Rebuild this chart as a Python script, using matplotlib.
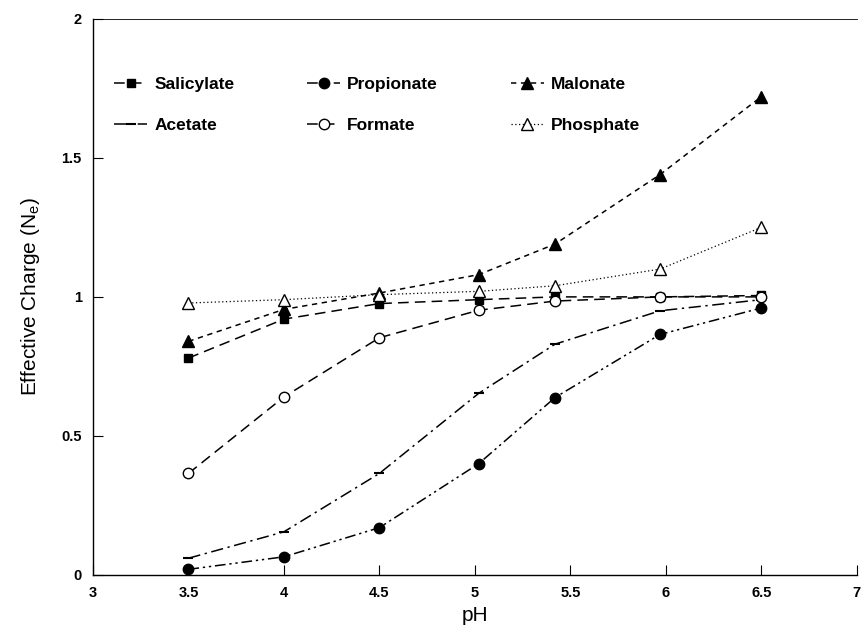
import matplotlib.pyplot as plt

plt.rcParams['font.family'] = ['Liberation Sans', 'DejaVu Sans']

# pH values where each anion was measured
ph = [3.5, 4.0, 4.5, 5.02, 5.42, 5.97, 6.5]

salicylate = [0.78, 0.92, 0.976, 0.99, 1.0, 1.0, 1.005]
acetate = [0.06, 0.155, 0.365, 0.653, 0.83, 0.95, 0.99]
propionate = [0.02, 0.065, 0.17, 0.40, 0.638, 0.865, 0.96]
formate = [0.365, 0.64, 0.853, 0.952, 0.985, 1.0, 1.0]
malonate = [0.84, 0.955, 1.014, 1.08, 1.19, 1.44, 1.72]
phosphate = [0.978, 0.99, 1.008, 1.02, 1.04, 1.10, 1.25]

xticks = [3, 3.5, 4, 4.5, 5, 5.5, 6, 6.5, 7]
xticklabels = ['3', '3.5', '4', '4.5', '5', '5.5', '6', '6.5', '7']
yticks = [0, 0.5, 1, 1.5, 2]
yticklabels = ['0', '0.5', '1', '1.5', '2']

fig = plt.figure(figsize=(8.64, 6.29), dpi=100)
ax = fig.add_axes([0.1076, 0.086, 0.884, 0.884])

k = dict(color='black', lw=1.1)
ax.plot(ph, salicylate, ls=(0, (7, 4)), marker='s', ms=6, label='Salicylate', **k)
ax.plot(ph, acetate, ls=(0, (8, 3, 1.5, 3)), marker='_', ms=7, mew=1.5, label='Acetate', **k)
ax.plot(ph, propionate, ls=(0, (7, 2.5, 1.5, 2.5, 1.5, 2.5)), marker='o', ms=7.5, label='Propionate', **k)
ax.plot(ph, formate, ls=(0, (7, 4)), marker='o', ms=7.5, mfc='white', label='Formate', **k)
ax.plot(ph, malonate, ls=(0, (3.5, 3)), marker='^', ms=8, label='Malonate', **k)
ax.plot(ph, phosphate, ls=(0, (1, 2)), marker='^', ms=8, mfc='white', label='Phosphate',
        color='black', lw=0.9)

ax.set_xlim(3, 7)
ax.set_ylim(0, 2)
ax.set_xticks(xticks)
ax.set_xticklabels(xticklabels)
ax.set_yticks(yticks)
ax.set_yticklabels(yticklabels)
ax.tick_params(direction='in', length=7, width=0.8, labelsize=10.5, pad=8)
for lab in ax.get_xticklabels() + ax.get_yticklabels():
    lab.set_fontweight('bold')

ax.spines['right'].set_visible(False)
ax.spines['top'].set_linewidth(0.6)
ax.spines['left'].set_linewidth(1.0)
ax.spines['bottom'].set_linewidth(1.0)

ax.set_xlabel('pH', fontsize=15, labelpad=4)
ax.set_ylabel('Effective Charge (N$_\\mathregular{e}$)', fontsize=15, labelpad=14)

leg = ax.legend(ncol=3, loc='upper left', bbox_to_anchor=(0.012, 0.917), frameon=False,
                handlelength=1.9, handletextpad=0.4, columnspacing=4.2, labelspacing=1.45,
                borderpad=0.2, prop={'weight': 'bold', 'size': 12.5})

fig.savefig('out.png', dpi=100)
